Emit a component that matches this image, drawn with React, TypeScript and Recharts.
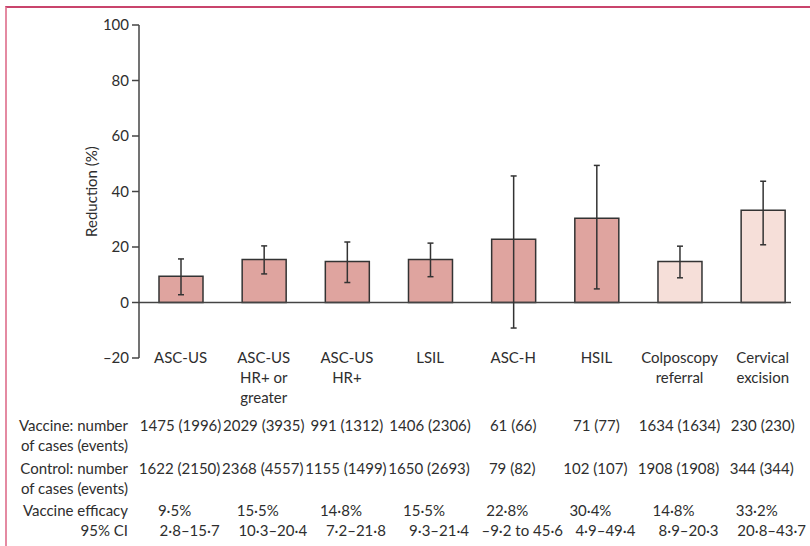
import React from 'react';
import { BarChart, Bar, XAxis, YAxis, ErrorBar, Cell, ReferenceLine } from 'recharts';

// ---------- data ----------
const categories: string[][] = [
  ['ASC-US'],
  ['ASC-US', 'HR+ or', 'greater'],
  ['ASC-US', 'HR+'],
  ['LSIL'],
  ['ASC-H'],
  ['HSIL'],
  ['Colposcopy', 'referral'],
  ['Cervical', 'excision'],
];
const outcomeGroup = ['cytology', 'cytology', 'cytology', 'cytology', 'cytology', 'cytology', 'procedure', 'procedure'];
const efficacy = [9.5, 15.5, 14.8, 15.5, 22.8, 30.4, 14.8, 33.2];
const ciLow = [2.8, 10.3, 7.2, 9.3, -9.2, 4.9, 8.9, 20.8];
const ciHigh = [15.7, 20.4, 21.8, 21.4, 45.6, 49.4, 20.3, 43.7];
const vaccineCases = [1475, 2029, 991, 1406, 61, 71, 1634, 230];
const vaccineEvents = [1996, 3935, 1312, 2306, 66, 77, 1634, 230];
const controlCases = [1622, 2368, 1155, 1650, 79, 102, 1908, 344];
const controlEvents = [2150, 4557, 1499, 2693, 82, 107, 1908, 344];
const yTicks = [-20, 0, 20, 40, 60, 80, 100];
const rowLabels = ['Vaccine: number', 'of cases (events)', 'Control: number', 'of cases (events)', 'Vaccine efficacy', '95% CI'];

// ---------- helpers ----------
const fmt = (v: number) => (v < 0 ? '\u2013' : '') + Math.abs(v).toFixed(1).replace('.', '\u00B7');
const ciText = (lo: number, hi: number) => (lo < 0 ? `${fmt(lo)} to ${fmt(hi)}` : `${fmt(lo)}\u2013${fmt(hi)}`);

const data = efficacy.map((v, i) => ({
  idx: i,
  value: v,
  err: [v - ciLow[i], ciHigh[i] - v],
}));

const FONT = 'Lato, "Open Sans", sans-serif';
const TEXT = '#2e2e2e';
const FILLS: Record<string, string> = { cytology: '#dfa49f', procedure: '#f6dfd9' };

const BottomTick = (props: any) => {
  const { x, y, payload } = props;
  const i = Math.round(payload.value);
  if (i < 0 || i >= categories.length) return null;
  const rows = [
    { text: `${vaccineCases[i]} (${vaccineEvents[i]})`, dy: 73, dx: 0 },
    { text: `${controlCases[i]} (${controlEvents[i]})`, dy: 116, dx: -1 },
    { text: `${fmt(efficacy[i])}%`, dy: 158, dx: -6 },
    { text: ciText(ciLow[i], ciHigh[i]), dy: 178, dx: 9 },
  ];
  return (
    <g>
      {categories[i].map((line, k) => (
        <text key={k} x={x} y={y + 5 + k * 20} textAnchor="middle" fill={TEXT} fontSize={15} fontFamily={FONT}>
          {line}
        </text>
      ))}
      {rows.map((r, k) => (
        <text key={'r' + k} x={x + r.dx} y={y + r.dy} textAnchor="middle" fill={TEXT} fontSize={15} fontFamily={FONT}>
          {r.text}
        </text>
      ))}
    </g>
  );
};

const rowLabelY = [431, 451, 474, 494, 516, 536];

export default function App() {
  return (
    <div style={{ position: 'absolute', left: 0, top: 0, width: 810, height: 546, background: '#fff', overflow: 'hidden' }}>
      <div
        style={{
          position: 'absolute',
          left: 5,
          top: 6,
          width: 820,
          height: 560,
          borderTop: '2px solid #c9446c',
          borderLeft: '2px solid #e48aa2',
        }}
      />
      <div style={{ position: 'absolute', left: 0, top: 0 }}>
        <BarChart
          width={810}
          height={546}
          data={data}
          margin={{ top: 25, right: 19, bottom: 0, left: 0 }}
          style={{ fontFamily: FONT }}
        >
          <XAxis
            xAxisId={0}
            type="number"
            dataKey="idx"
            domain={[-0.5, 7.34]}
            ticks={[0, 1, 2, 3, 4, 5, 6, 7]}
            axisLine={false}
            tickLine={false}
            tickSize={0}
            tickMargin={0}
            height={188}
            tick={<BottomTick />}
            interval={0}
          />
          <YAxis
            type="number"
            domain={[-20, 100]}
            ticks={yTicks}
            width={139}
            tickSize={7}
            tickMargin={3}
            axisLine={{ stroke: '#444', strokeWidth: 1.5 }}
            tickLine={{ stroke: '#444', strokeWidth: 1.5 }}
            tick={{ fill: TEXT, fontSize: 15, fontFamily: FONT }}
            tickFormatter={(v: number) => (v < 0 ? '\u2013' + Math.abs(v) : String(v))}
            interval={0}
            label={{
              value: 'Reduction (%)',
              angle: -90,
              position: 'center',
              dx: 22,
              style: { fill: TEXT, fontSize: 15, fontFamily: FONT },
            }}
          />
          <ReferenceLine y={0} stroke="#444" strokeWidth={1.5} />
          <Bar dataKey="value" barSize={44} stroke="#333" strokeWidth={1.5} isAnimationActive={false}>
            {data.map((d, i) => (
              <Cell key={i} fill={FILLS[outcomeGroup[i]]} />
            ))}
            <ErrorBar dataKey="err" width={3} stroke="#333" strokeWidth={1.5} direction="y" />
          </Bar>
        </BarChart>
      </div>
      <svg width={810} height={546} style={{ position: 'absolute', left: 0, top: 0, pointerEvents: 'none' }}>
        {rowLabels.map((t, k) => (
          <text key={k} x={128} y={rowLabelY[k]} textAnchor="end" fill={TEXT} fontSize={15} fontFamily={FONT}>
            {t}
          </text>
        ))}
      </svg>
    </div>
  );
}
